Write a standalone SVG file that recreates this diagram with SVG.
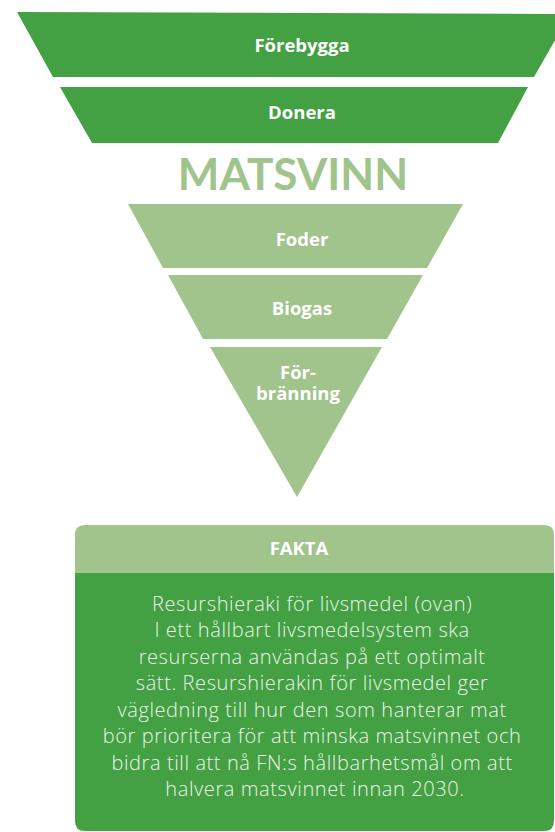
<svg xmlns="http://www.w3.org/2000/svg" width="555" height="832" viewBox="0 0 555 832">
<style>
.dark{fill:#43a043}
.light{fill:#a0c48b}
.lbl{font-family:"Open Sans","Lato",sans-serif;font-weight:700;font-size:18.5px;fill:#ffffff;text-anchor:middle}
.body{font-family:"Open Sans","Lato",sans-serif;font-weight:300;font-size:20px;letter-spacing:0.6px;fill:#eef4ea;text-anchor:middle}
</style>
<rect width="555" height="832" fill="#ffffff"/>
<g id="forebygga">
<polygon class="dark" points="17,12 570,14 534,77 53,77"/>
<text class="lbl" x="302" y="52">Förebygga</text>
</g>
<g id="donera">
<polygon class="dark" points="60,87 528,87 498,143 92,143"/>
<text class="lbl" x="302" y="119">Donera</text>
</g>
<g id="title">
<text x="293" y="190" style="font-family:'Lato','Open Sans',sans-serif;font-weight:700;font-size:44px;fill:#a0c48b;text-anchor:middle">MATSVINN</text>
</g>
<g id="foder">
<polygon class="light" points="128,204 463,204 427,268 163,268"/>
<text class="lbl" x="302" y="246">Foder</text>
</g>
<g id="biogas">
<polygon class="light" points="168,275 423,275 387,339 203,339"/>
<text class="lbl" x="302" y="315">Biogas</text>
</g>
<g id="forbranning">
<polygon class="light" points="210,347 382,347 297,497"/>
<text class="lbl"><tspan x="298" y="379">För-</tspan><tspan x="298" y="400">bränning</tspan></text>
</g>
<g id="connectors"></g>
<g id="fakta">
<path class="dark" d="M75,573 H554 V821 Q554,831 544,831 H85 Q75,831 75,821 Z"/>
<path class="light" d="M75,573 V535 Q75,525 85,525 H544 Q554,525 554,535 V573 Z"/>
<text class="lbl" x="299" y="555">FAKTA</text>
<text class="body">
<tspan x="315" y="611">Resurshieraki för livsmedel (ovan)</tspan>
<tspan x="315" y="637">I ett hållbart livsmedelsystem ska</tspan>
<tspan x="315" y="664">resurserna användas på ett optimalt</tspan>
<tspan x="315" y="690">sätt. Resurshierakin för livsmedel ger</tspan>
<tspan x="315" y="717">vägledning till hur den som hanterar mat</tspan>
<tspan x="315" y="743">bör prioritera för att minska matsvinnet och</tspan>
<tspan x="315" y="770">bidra till att nå FN:s hållbarhetsmål om att</tspan>
<tspan x="315" y="796">halvera matsvinnet innan 2030.</tspan>
</text>
</g>
</svg>
